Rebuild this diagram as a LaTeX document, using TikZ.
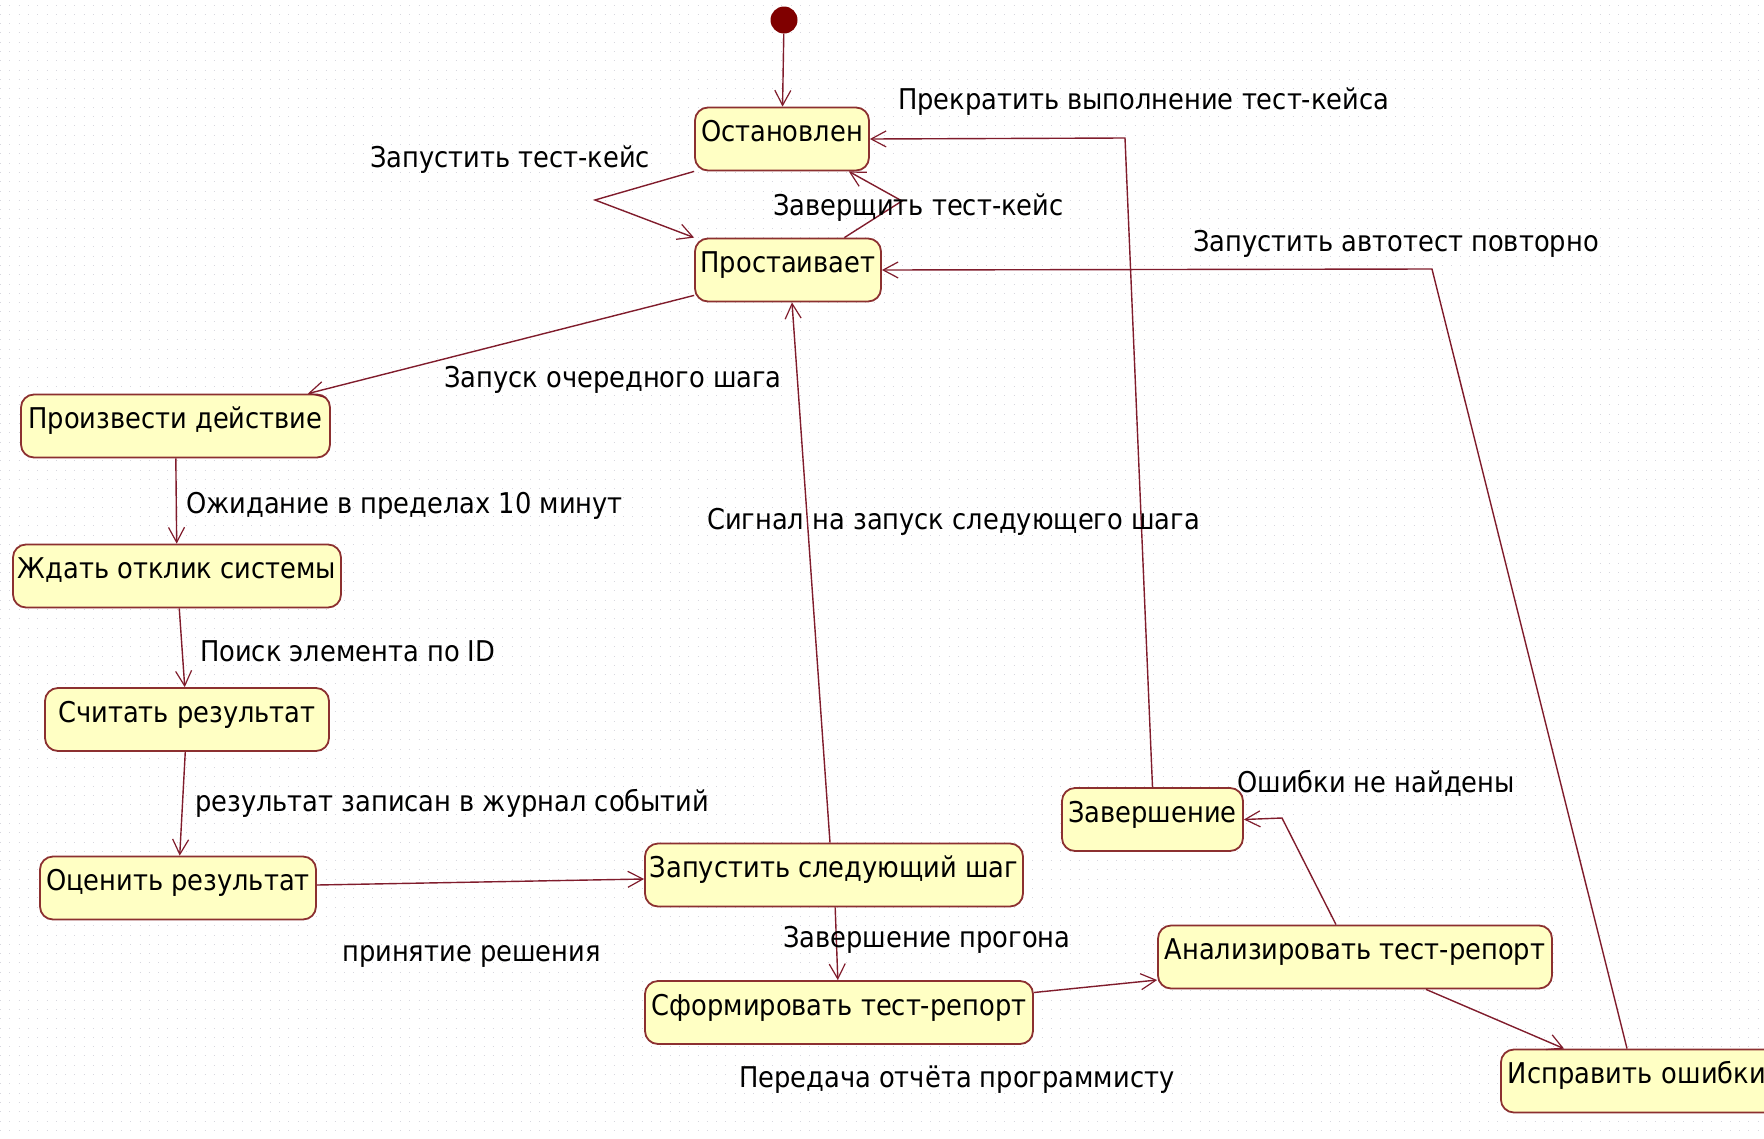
\documentclass[tikz,border=0pt]{standalone}
\usepackage{fontspec}
\setmainfont{DejaVu Sans Condensed}
\usetikzlibrary{arrows.meta,calc}
\definecolor{boxfill}{RGB}{255,255,196}
\definecolor{boxline}{RGB}{140,48,48}
\definecolor{edgecol}{RGB}{128,28,44}
\definecolor{dotcol}{RGB}{128,0,0}
\definecolor{gridcol}{RGB}{215,215,222}
\tikzset{
  state/.style={draw=boxline, fill=boxfill, line width=1.8pt, rounded corners=13pt,
    inner xsep=0pt, inner ysep=0pt, text height=34pt, text depth=29pt,
    font=\fontsize{28.6}{32}\selectfont},
  lbl/.style={anchor=west, inner sep=0pt, font=\fontsize{28.6}{32}\selectfont},
  arr/.style={draw=edgecol, line width=1.4pt, -{Straight Barb[length=15pt,width=16pt,line width=1.2pt]}}
}
\begin{document}
\begin{tikzpicture}[x=1pt,y=-1pt]
\useasboundingbox (0,0) rectangle (1764,1138);
\clip (0,0) rectangle (1764,1138);
\fill[white] (0,0) rectangle (1764,1138);
% dotted grid
\foreach \yy in {5,14.3,...,1138} {
  \draw[gridcol, line width=1pt, dash pattern=on 1pt off 8.3pt] (0,\yy) -- (1764,\yy);
}
% initial state
\node[circle, fill=dotcol, minimum size=27pt, inner sep=0pt] (init) at (784,20) {};
% states
\node[state, minimum width=174pt] (ost) at (782,139) {Остановлен};
\node[state, minimum width=186pt] (prost) at (788,270) {Простаивает};
\node[state, minimum width=309pt] (proizv) at (175.5,426) {Произвести действие};
\node[state, minimum width=328pt] (zhdat) at (177,576) {Ждать отклик системы};
\node[state, minimum width=284pt] (schitat) at (187,719.5) {Считать результат};
\node[state, minimum width=276pt] (ocenit) at (178,888) {Оценить результат};
\node[state, minimum width=378pt] (zapust) at (834,875) {Запустить следующий шаг};
\node[state, minimum width=388pt] (sform) at (839,1012.5) {Сформировать тест-репорт};
\node[state, minimum width=181pt] (zaversh) at (1152.5,819.5) {Завершение};
\node[state, minimum width=394pt] (analiz) at (1355,957) {Анализировать тест-репорт};
\node[state, anchor=west, inner xsep=7pt, text width=310pt, align=left] (isprav) at (1500,1081) {Исправить ошибки};
% waypoints
\coordinate (w1) at (595,200);
\coordinate (w2) at (902,201);
\coordinate (w3) at (1125,138);
\coordinate (w4) at (1432,269);
\coordinate (w5) at (1282,818);
% edges
\draw[arr] (init) -- (ost);
\draw[arr] (ost.south west) -- (w1) -- (prost.north west);
\draw[arr] ($(prost.north west)!0.8!(prost.north east)$) -- (w2) -- ($(ost.south west)!0.88!(ost.south east)$);
\draw[arr] (zaversh.north) -- (w3) -- (ost.east);
\draw[arr] ($(isprav.north west)+(127,0)$) -- (w4) -- (prost.east);
\draw[arr] ($(prost.south west)+(0,-7)$) -- ($(proizv.north east)+(-23,0)$);
\draw[arr] (proizv) -- (zhdat);
\draw[arr] (zhdat) -- (schitat);
\draw[arr] (schitat) -- (ocenit);
\draw[arr] ($(ocenit.east)+(0,-3)$) -- ($(zapust.west)+(0,4)$);
\draw[arr] ($(zapust.north)+(-4,0)$) -- ($(prost.south)+(4,0)$);
\draw[arr] (zapust) -- (sform);
\draw[arr] ($(sform.east)+(0,-20)$) -- ($(analiz.west)+(0,23)$);
\draw[arr] ($(analiz.north)+(-19,0)$) -- (w5) -- (zaversh.east);
\draw[arr] ($(analiz.south)+(71,0)$) -- ($(isprav.north west)+(64,0)$);
% labels
\node[lbl] (l1) at (370,160) {Запустить тест-кейс};
\node[lbl] (l2) at (898,102) {Прекратить выполнение тест-кейса};
\node[lbl] (l3) at (773,208) {Заверщить тест-кейс};
\node[lbl] (l4) at (1193,244) {Запустить автотест повторно};
\node[lbl] (l5) at (444,380) {Запуск очередного шага};
\node[lbl] (l6) at (186,506) {Ожидание в пределах 10 минут};
\node[lbl] (l7) at (200,651) {Поиск элемента по ID};
\node[lbl] (l8) at (195,803) {результат записан в журнал событий};
\node[lbl] (l9) at (342,956) {принятие решения};
\node[lbl] (l10) at (707,522) {Сигнал на запуск следующего шага};
\node[lbl] (l11) at (783,940) {Завершение прогона};
\node[lbl] (l12) at (739,1080) {Передача отчёта программисту};
\node[lbl] (l13) at (1237,783) {Ошибки не найдены};
\end{tikzpicture}
\end{document}
